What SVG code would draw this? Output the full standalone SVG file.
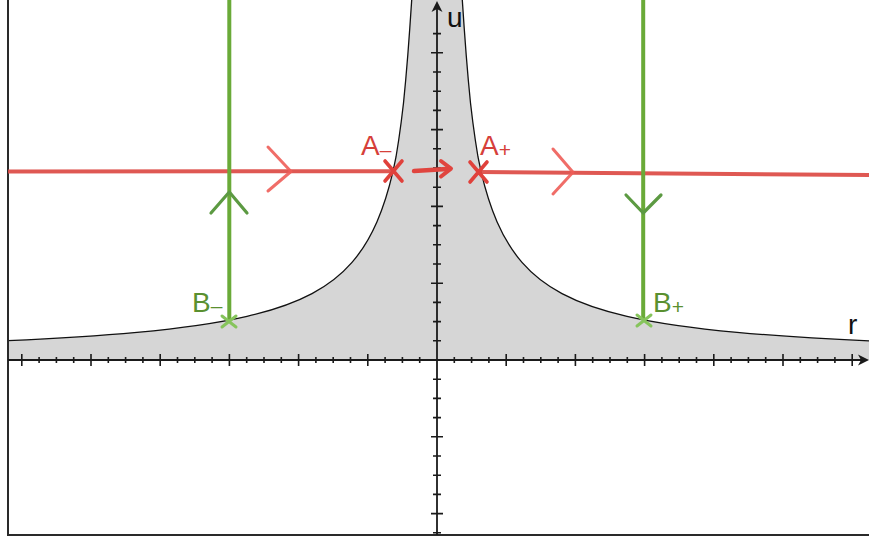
<svg xmlns="http://www.w3.org/2000/svg" width="869" height="545" viewBox="0 0 869 545">
<defs>
<style>
.frame{stroke:#2a2a2a;stroke-width:2;fill:none}
.axis{stroke:#1a1a1a;stroke-width:1.8;fill:none}
.tick{stroke:#1a1a1a;stroke-width:1.6;fill:none}
.curve{stroke:#111;stroke-width:1.3;fill:none}
.region{fill:#d6d6d6;stroke:none}
.red{stroke:#dc4a44;stroke-width:4;fill:none;stroke-opacity:.92}
.redchev{stroke:#ee5d58;stroke-width:3;fill:none;stroke-linecap:round;stroke-linejoin:round;stroke-opacity:.9}
.redx{stroke:#e0413b;stroke-width:3.6;fill:none;stroke-linecap:round}
.green{stroke:#6aaa38;stroke-width:4;fill:none}
.greenchev{stroke:#5c9a42;stroke-width:3.2;fill:none;stroke-linecap:round;stroke-linejoin:round}
.greenx{stroke:#86c45c;stroke-width:3;fill:none;stroke-linecap:round}
.lbl{font-family:"Liberation Sans","Open Sans",sans-serif;font-size:28px}
.lr{fill:#d6403a}
.lg{fill:#5a9030}
.ax{font-family:"Liberation Sans","Open Sans",sans-serif;font-size:28px;fill:#111}
.sub{font-size:21px}
</style>
<clipPath id="clip"><rect x="8" y="0" width="861" height="535"/></clipPath>
</defs>
<rect width="869" height="545" fill="#ffffff"/>

<g id="region" clip-path="url(#clip)">
<path class="region" d="M5,340.79 C49,338.83 93,336.39 137,332.33 C173.67,328.95 210.33,324.75 247,316.32 C268.67,311.34 290.33,305.11 312,293.6 C325.33,286.52 338.67,277.67 352,262.35 C360.33,252.78 368.67,240.89 377,221.67 C382.33,209.37 387.67,194.22 393,171.36 L396,157 L398.7,140 L401.2,122 L403.5,103 L405.7,80 L407.8,55 L409.8,28 L411.7,0 L411.9,-3 L462.1,-3 L462.3,0 L464.2,28 L466.2,55 L468.3,80 L470.5,103 L472.8,122 L475.3,140 L478,157 L481,171.36 C486.33,194.22 491.67,209.37 497,221.67 C505.33,240.89 513.67,252.78 522,262.35 C535.33,277.67 548.67,286.52 562,293.6 C583.67,305.11 605.33,311.34 627,316.32 C663.67,324.75 700.33,328.95 737,332.33 C781,336.39 825,338.83 869,340.79 L875,341 L875,360 L5,360 Z"/>
<path class="curve" d="M5,340.79 C49,338.83 93,336.39 137,332.33 C173.67,328.95 210.33,324.75 247,316.32 C268.67,311.34 290.33,305.11 312,293.6 C325.33,286.52 338.67,277.67 352,262.35 C360.33,252.78 368.67,240.89 377,221.67 C382.33,209.37 387.67,194.22 393,171.36 L396,157 L398.7,140 L401.2,122 L403.5,103 L405.7,80 L407.8,55 L409.8,28 L411.7,0 L411.9,-3"/>
<path class="curve" d="M462.1,-3 L462.3,0 L464.2,28 L466.2,55 L468.3,80 L470.5,103 L472.8,122 L475.3,140 L478,157 L481,171.36 C486.33,194.22 491.67,209.37 497,221.67 C505.33,240.89 513.67,252.78 522,262.35 C535.33,277.67 548.67,286.52 562,293.6 C583.67,305.11 605.33,311.34 627,316.32 C663.67,324.75 700.33,328.95 737,332.33 C781,336.39 825,338.83 869,340.79 L875,341"/>
</g>

<g id="frame">
<path class="frame" d="M8,0 V535 H869"/>
</g>

<g id="axes">
<path class="axis" d="M8,360 H866"/>
<path d="M869,360 L858,354.5 L861,360 L858,365.5 Z" fill="#1a1a1a"/>
<path class="axis" d="M437,535 V4"/>
<path d="M437,1 L431.5,12 L437,9 L442.5,12 Z" fill="#1a1a1a"/>
<path class="tick" d="M21.8,354v12 M39.1,357v6 M56.4,357v6 M73.7,357v6 M91,354v12 M108.3,357v6 M125.6,357v6 M142.9,357v6 M160.2,354v12 M177.5,357v6 M194.8,357v6 M212.1,357v6 M229.4,354v12 M246.7,357v6 M264,357v6 M281.3,357v6 M298.6,354v12 M315.9,357v6 M333.2,357v6 M350.5,357v6 M367.8,354v12 M385.1,357v6 M402.4,357v6 M419.7,357v6 M454.3,357v6 M471.6,357v6 M488.9,357v6 M506.2,354v12 M523.5,357v6 M540.8,357v6 M558.1,357v6 M575.4,354v12 M592.7,357v6 M610,357v6 M627.3,357v6 M644.6,354v12 M661.9,357v6 M679.2,357v6 M696.5,357v6 M713.8,354v12 M731.1,357v6 M748.4,357v6 M765.7,357v6 M783,354v12 M800.3,357v6 M817.6,357v6 M834.9,357v6 M852.2,354v12"/>
<path class="tick" d="M433,33.6h8 M431,52.8h12 M433,72h8 M433,91.2h8 M433,110.4h8 M431,129.6h12 M433,148.8h8 M433,168h8 M433,187.2h8 M431,206.4h12 M433,225.6h8 M433,244.8h8 M433,264h8 M431,283.2h12 M433,302.4h8 M433,321.6h8 M433,340.8h8 M433,379.2h8 M433,398.4h8 M433,417.6h8 M431,436.8h12 M433,456h8 M433,475.2h8 M433,494.4h8 M431,513.6h12 M433,532.8h8"/>
<text class="ax" x="447" y="27">u</text>
<text class="ax" x="848" y="334">r</text>
</g>

<g id="connectors">
<path class="red" d="M8,171.5 L393,171.3"/>
<path class="red" d="M479,172 L869,175"/>
<path class="redchev" d="M268,147 L291,171.5 L268,191"/>
<path class="redchev" d="M553,149 L573,172.3 L553,194"/>
<path d="M414,171 L447,169" stroke="#e0453f" stroke-width="4.5" fill="none" stroke-linecap="round"/>
<path d="M441,161 L451,168.6 L441,176.5" stroke="#e0453f" stroke-width="4" fill="none" stroke-linecap="round" stroke-linejoin="round"/>
<path class="green" d="M229.3,0 V321"/>
<path class="green" d="M643.2,0 V320"/>
<path class="greenchev" d="M211,213 L229.3,192 L247,213"/>
<path class="greenchev" d="M626,195 L643.2,213 L661,195"/>
</g>

<g id="A-minus">
<path class="redx" d="M385,161 L402,181 M402,161 L385,181"/>
<text class="lbl lr" x="361" y="155">A<tspan class="sub" dy="2">–</tspan></text>
</g>
<g id="A-plus">
<path class="redx" d="M470,162 L487,182 M487,162 L470,182"/>
<text class="lbl lr" x="480" y="155">A<tspan class="sub" dy="2">+</tspan></text>
</g>
<g id="B-minus">
<path class="greenx" d="M222,316 L236,327 M236,316 L222,327"/>
<text class="lbl lg" x="192" y="312">B<tspan class="sub" dy="1">–</tspan></text>
</g>
<g id="B-plus">
<path class="greenx" d="M637,315 L651,326 M651,315 L637,326"/>
<text class="lbl lg" x="653" y="312">B<tspan class="sub" dy="2">+</tspan></text>
</g>
</svg>
